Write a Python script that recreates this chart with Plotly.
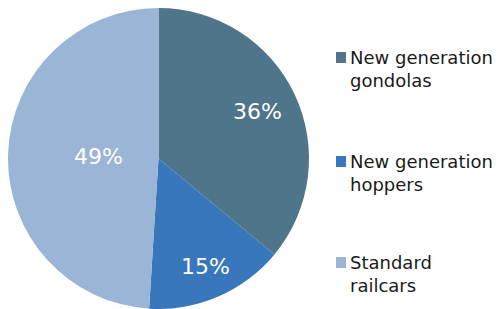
import math
import plotly.graph_objects as go

categories = ["New generation gondolas", "New generation hoppers", "Standard railcars"]
legend_labels = ["New generation<br>gondolas", "New generation<br>hoppers", "Standard<br>railcars"]
values = [36, 15, 49]
colors = ["#4e7589", "#3877bb", "#9bb5d7"]

# style: radial placement (fraction of radius) of each percentage label
label_radius = [0.73, 0.78, 0.40]

# the page has an 8px body margin, so the figure is 8px smaller than the window
W, H = 492, 301
PIE_D = 301  # pie diameter in px

fig = go.Figure(go.Pie(
    labels=categories,
    values=values,
    sort=False,
    direction="clockwise",
    rotation=0,
    marker=dict(colors=colors, line=dict(width=0)),
    textinfo="none",
    hoverinfo="label+percent",
    domain=dict(x=[0, PIE_D / W], y=[0, 1]),
    showlegend=False,
))

annotations = []
shapes = []

# percentage labels at the slice bisectors
cx, cy = (PIE_D / 2) / W, 0.5
rx, ry = (PIE_D / 2) / W, (PIE_D / 2) / H
total = sum(values)
cum = 0
for v, rf in zip(values, label_radius):
    mid = (cum + v / 2) / total * 2 * math.pi
    cum += v
    annotations.append(dict(
        text=f"{round(100 * v / total)}%", xref="paper", yref="paper",
        x=cx + rf * rx * math.sin(mid), y=cy + rf * ry * math.cos(mid),
        xanchor="center", yanchor="middle", showarrow=False,
        font=dict(family="DejaVu Sans", size=22, color="white")))

# custom legend (square + two-line label)
legend_first_baselines = [55, 159, 260]
for lab, col, b in zip(legend_labels, colors, legend_first_baselines):
    sq_top = b - 11
    shapes.append(dict(type="rect", xref="paper", yref="paper",
                       x0=328 / W, x1=338 / W,
                       y0=1 - (sq_top + 11) / H, y1=1 - sq_top / H,
                       fillcolor=col, line=dict(width=0)))
    mid = b + 11 - 5
    annotations.append(dict(text=lab, xref="paper", yref="paper",
                            x=340 / W, y=1 - mid / H, xanchor="left", yanchor="middle",
                            showarrow=False, align="left",
                            font=dict(family="DejaVu Sans", size=18, color="#1a1a1a")))

fig.update_layout(
    width=W, height=H,
    margin=dict(l=0, r=0, t=0, b=0),
    paper_bgcolor="white",
    plot_bgcolor="white",
    shapes=shapes,
    annotations=annotations,
)

fig.write_html("out.html")
